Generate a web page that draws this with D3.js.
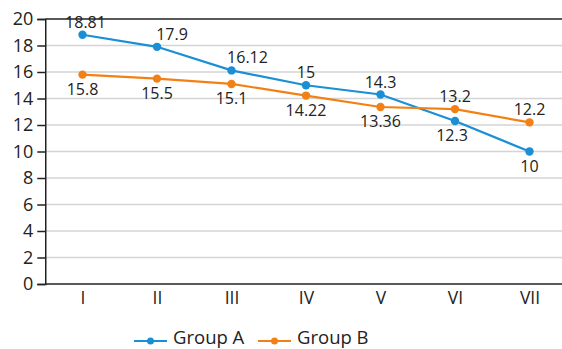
<!DOCTYPE html>
<html>
<head>
<meta charset="utf-8">
<script src="https://cdn.jsdelivr.net/npm/d3@7"></script>
<style>
  html, body { margin: 0; padding: 0; background: #fff; }
  svg { display: block; }
  text { font-family: "Open Sans", "Noto Sans", sans-serif; fill: #222; }
</style>
</head>
<body>
<svg id="chart" width="562" height="349"></svg>
<script>
const categories = ["I", "II", "III", "IV", "V", "VI", "VII"];
const groupA = [18.81, 17.9, 16.12, 15, 14.3, 12.3, 10];
const groupB = [15.8, 15.5, 15.1, 14.22, 13.36, 13.2, 12.2];
const yTicks = [0, 2, 4, 6, 8, 10, 12, 14, 16, 18, 20];
const seriesNames = ["Group A", "Group B"];
const colors = ["#1a8fd6", "#f38014"];
// label placement: +1 above, -1 below; horizontal nudges
const labelSideA = [1, 1, 1, 1, 1, -1, -1];
const labelSideB = [-1, -1, -1, -1, -1, 1, 1];
const labelNudgeA = [3, 15, 16, 0, 0, -3, 0];
const labelNudgeB = [0, 0, 0, 0, 0, 0, 0];

(function () {
const svg = d3.select("#chart");
const mLeft = 45.25, mRight = 566.75, mTop = 19, mBottom = 284;

const x = d3.scalePoint().domain(categories).range([mLeft, mRight]).padding(0.5);
const y = d3.scaleLinear().domain([0, 20]).range([mBottom, mTop]);

// gridlines
svg.append("g").selectAll("line").data(yTicks.filter(d => d > 0 && d < 20)).join("line")
  .attr("x1", mLeft).attr("x2", 562)
  .attr("y1", d => y(d)).attr("y2", d => y(d))
  .attr("stroke", "#d4d4d4").attr("stroke-width", 1.5);
// top border
svg.append("line").attr("x1", mLeft).attr("x2", 562)
  .attr("y1", y(20)).attr("y2", y(20)).attr("stroke", "#222").attr("stroke-width", 1.5);

// y axis
const yAxis = svg.append("g").attr("transform", `translate(${mLeft},0)`)
  .call(d3.axisLeft(y).tickValues(yTicks).tickSize(8).tickPadding(4).tickFormat(d3.format("d")));
yAxis.select(".domain").attr("stroke", "#222").attr("stroke-width", 1.5);
yAxis.selectAll(".tick line").attr("stroke", "#222").attr("stroke-width", 1.5);
yAxis.selectAll("text").style("font-size", "18px").attr("fill", "#222")
  .style("font-family", "'Open Sans', 'Noto Sans', sans-serif");

// x axis
const xAxis = svg.append("g").attr("transform", `translate(0,${mBottom})`)
  .call(d3.axisBottom(x).tickSize(0).tickPadding(8));
xAxis.select(".domain").attr("d", `M${mLeft},0H562`).attr("stroke", "#222").attr("stroke-width", 1.5);
xAxis.selectAll("text").style("font-size", "17.5px").attr("fill", "#222")
  .style("font-family", "'Open Sans', 'Noto Sans', sans-serif");

const series = [
  {name: seriesNames[0], values: groupA, color: colors[0], side: labelSideA, nudge: labelNudgeA},
  {name: seriesNames[1], values: groupB, color: colors[1], side: labelSideB, nudge: labelNudgeB}
];

const line = d3.line().x((d, i) => x(categories[i])).y(d => y(d));

series.forEach(s => {
  const g = svg.append("g");
  g.append("path").datum(s.values).attr("d", line)
    .attr("fill", "none").attr("stroke", s.color).attr("stroke-width", 2.2);
  g.selectAll("circle").data(s.values).join("circle")
    .attr("cx", (d, i) => x(categories[i])).attr("cy", d => y(d)).attr("r", 4.2)
    .attr("fill", s.color);
  g.selectAll("text").data(s.values).join("text")
    .attr("x", (d, i) => x(categories[i]) + s.nudge[i])
    .attr("y", (d, i) => y(d) + (s.side[i] > 0 ? -7 : 20))
    .attr("text-anchor", "middle")
    .style("font-size", "16px")
    .text(d => d);
});

// legend
const legend = svg.append("g");
const legendX = [134, 258];
series.forEach((s, i) => {
  const lg = legend.append("g").attr("transform", `translate(${legendX[i]},341)`);
  lg.append("line").attr("x1", 0).attr("x2", 33).attr("y1", 0).attr("y2", 0)
    .attr("stroke", s.color).attr("stroke-width", 2.2);
  lg.append("circle").attr("cx", 16.5).attr("cy", 0).attr("r", 3.5).attr("fill", s.color);
  lg.append("text").attr("x", 39).attr("y", 2.5).style("font-size", "18.5px")
    .text(s.name);
});
})();
</script>
</body>
</html>
